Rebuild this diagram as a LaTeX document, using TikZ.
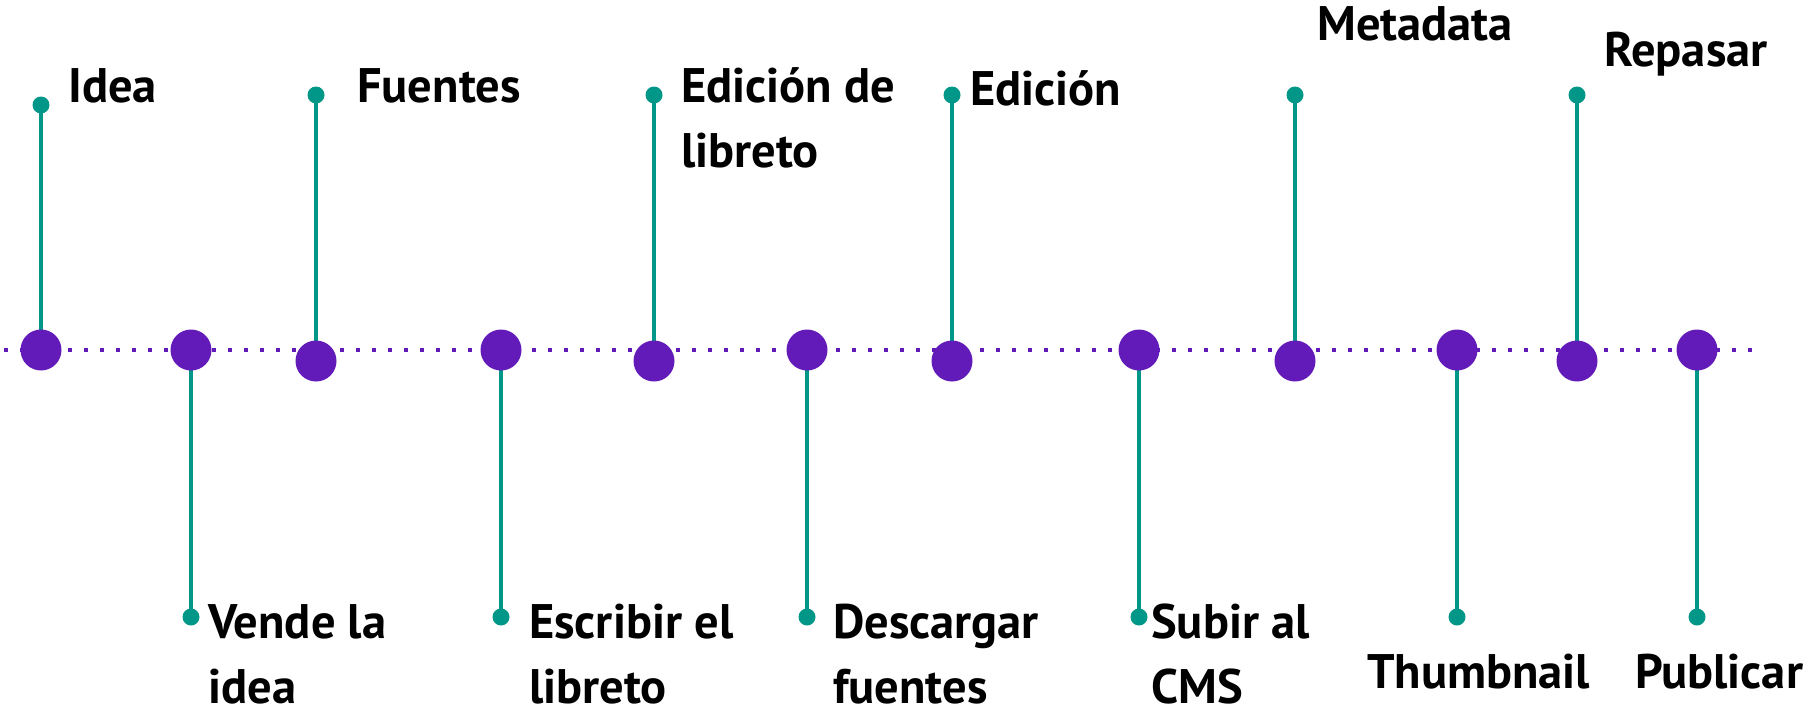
\documentclass[tikz,border=0pt]{standalone}
\usepackage{fontspec}
\setmainfont{PT Sans}
\usetikzlibrary{backgrounds}
\definecolor{tlpurple}{HTML}{621BB9}
\definecolor{tlteal}{HTML}{009688}
\tikzset{
  bigdot/.style={circle,fill=tlpurple,inner sep=0pt,minimum size=41pt},
  smalldot/.style={circle,fill=tlteal,inner sep=0pt,minimum size=17pt},
  stem/.style={draw=tlteal,line width=4pt},
  axis/.style={draw=tlpurple,line width=4pt,dash pattern=on 4pt off 12pt},
  lbl/.style={anchor=base west,inner sep=0pt,align=left,text=black,font=\fontsize{48.5}{65}\selectfont\bfseries}
}
\begin{document}
\begin{tikzpicture}[x=1pt,y=-1pt]
\useasboundingbox (0,0) rectangle (1813,710);
% axis ends
\coordinate (axA) at (4,350);
\coordinate (axB) at (1757,350);
% big circles
\node[bigdot] (c1) at (41,350) {};
\node[bigdot] (c2) at (191,350) {};
\node[bigdot] (c3) at (316,361) {};
\node[bigdot] (c4) at (501,350) {};
\node[bigdot] (c5) at (654,361) {};
\node[bigdot] (c6) at (807,350) {};
\node[bigdot] (c7) at (952,361) {};
\node[bigdot] (c8) at (1139,350) {};
\node[bigdot] (c9) at (1295,361) {};
\node[bigdot] (c10) at (1457,350) {};
\node[bigdot] (c11) at (1577,361) {};
\node[bigdot] (c12) at (1697,350) {};
% small dots
\node[smalldot] (d1) at (41,105) {};
\node[smalldot] (d2) at (191,617) {};
\node[smalldot] (d3) at (316,95) {};
\node[smalldot] (d4) at (501,617) {};
\node[smalldot] (d5) at (654,95) {};
\node[smalldot] (d6) at (807,617) {};
\node[smalldot] (d7) at (952,95) {};
\node[smalldot] (d8) at (1139,617) {};
\node[smalldot] (d9) at (1295,95) {};
\node[smalldot] (d10) at (1457,617) {};
\node[smalldot] (d11) at (1577,95) {};
\node[smalldot] (d12) at (1697,617) {};
\begin{scope}[on background layer]
\draw[axis] (axA) -- (axB);
\foreach \i in {1,...,12} {\draw[stem] (d\i.center) -- (c\i.center);}
\end{scope}
% labels (multi-line nodes: base = last line baseline)
\node[lbl] (t1) at (68,102) {Idea};
\node[lbl] (t2) at (208,703) {Vende la\\idea};
\node[lbl] (t3) at (357,102) {Fuentes};
\node[lbl] (t4) at (529,703) {Escribir el\\libreto};
\node[lbl] (t5) at (681,167) {Edición de\\libreto};
\node[lbl] (t6) at (833,703) {Descargar\\fuentes};
\node[lbl] (t7) at (970,105) {Edición};
\node[lbl] (t8) at (1151,703) {Subir al\\CMS};
\node[lbl] (t9) at (1317,40) {Metadata};
\node[lbl] (t10) at (1367,688) {Thumbnail};
\node[lbl] (t11) at (1604,66) {Repasar};
\node[lbl] (t12) at (1635,688) {Publicar};
\end{tikzpicture}
\end{document}
